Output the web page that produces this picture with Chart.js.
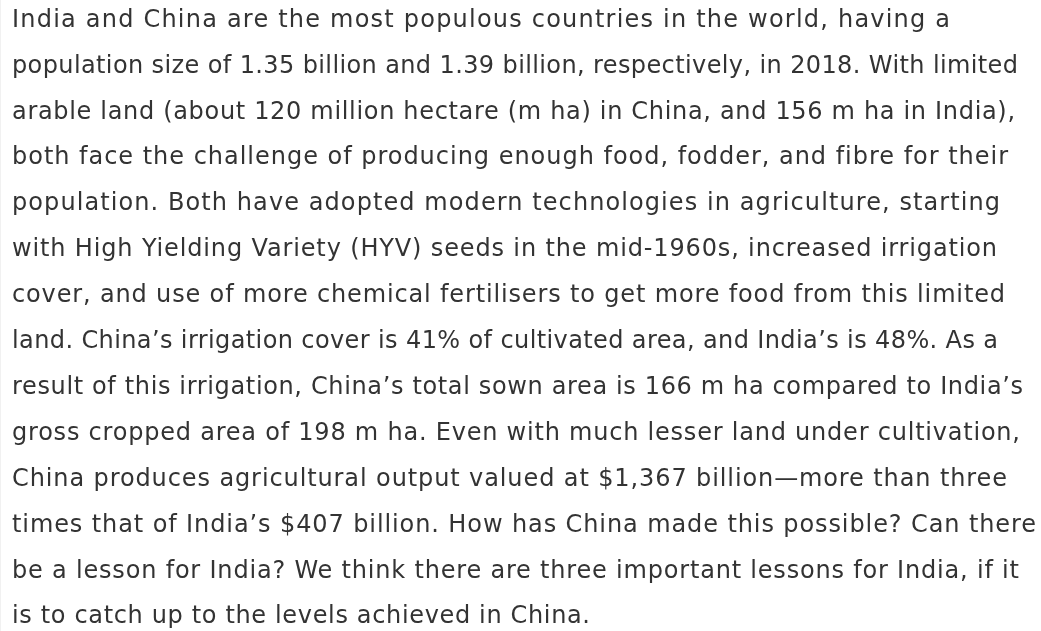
<!DOCTYPE html>
<html>
<head>
<meta charset="utf-8">
<script src="https://cdn.jsdelivr.net/npm/chart.js@4"></script>
<style>
  html, body { margin: 0; padding: 0; background: #ffffff; overflow: hidden; }
  #wrap { position: relative; width: 1041px; height: 631px; overflow: hidden; }
  #c { position: absolute; left: 0; top: 0; }
</style>
</head>
<body>
<div id="wrap"><canvas id="c" width="1041" height="631"></canvas></div>
<script>
// Text content of the reference (one entry per rendered line)
const paragraphLines = [
  "India and China are the most populous countries in the world, having a",
  "population size of 1.35 billion and 1.39 billion, respectively, in 2018. With limited",
  "arable land (about 120 million hectare (m ha) in China, and 156 m ha in India),",
  "both face the challenge of producing enough food, fodder, and fibre for their",
  "population. Both have adopted modern technologies in agriculture, starting",
  "with High Yielding Variety (HYV) seeds in the mid-1960s, increased irrigation",
  "cover, and use of more chemical fertilisers to get more food from this limited",
  "land. China\u2019s irrigation cover is 41% of cultivated area, and India\u2019s is 48%. As a",
  "result of this irrigation, China\u2019s total sown area is 166 m ha compared to India\u2019s",
  "gross cropped area of 198 m ha. Even with much lesser land under cultivation,",
  "China produces agricultural output valued at $1,367 billion\u2014more than three",
  "times that of India\u2019s $407 billion. How has China made this possible? Can there",
  "be a lesson for India? We think there are three important lessons for India, if it",
  "is to catch up to the levels achieved in China."
];
// No plotted series in the reference
const categories = [];
const seriesValues = [];

// Layout (typesetting) settings, kept apart from the content
const TEXT_LEFT = 12;
const FIRST_BASELINE = 26.7;
const LINE_STEP = 45.9;
const FONT = '24px "DejaVu Sans"';
const TEXT_COLOR = '#333333';
const lineRightEdges = [950, 1018, 1015, 1008, 1000, 997, 1005, 998, 1023, 1020, 1007, 1036, 1019, 590];

const paragraphPlugin = {
  id: 'paragraph',
  afterDraw(chart) {
    const ctx = chart.ctx;
    ctx.save();
    ctx.font = FONT;
    ctx.fillStyle = TEXT_COLOR;
    ctx.textAlign = 'left';
    ctx.textBaseline = 'alphabetic';
    paragraphLines.forEach((line, i) => {
      ctx.letterSpacing = '0px';
      const natural = ctx.measureText(line).width;
      const n = Array.from(line).length;
      const sp = (lineRightEdges[i] - TEXT_LEFT - natural) / Math.max(1, n - 1);
      ctx.letterSpacing = sp.toFixed(3) + 'px';
      ctx.fillText(line, TEXT_LEFT, FIRST_BASELINE + i * LINE_STEP);
    });
    ctx.letterSpacing = '0px';
    // faint page edge at the far left
    ctx.fillStyle = '#f1f1f1';
    ctx.fillRect(0, 0, 1, chart.height);
    ctx.restore();
  }
};

new Chart(document.getElementById('c'), {
  type: 'bar',
  data: { labels: categories, datasets: [{ data: seriesValues }] },
  plugins: [paragraphPlugin],
  options: {
    responsive: false,
    animation: false,
    layout: { padding: 0 },
    scales: { x: { display: false }, y: { display: false } },
    plugins: {
      legend: { display: false },
      tooltip: { enabled: false },
      title: { display: false }
    }
  }
});
</script>
</body>
</html>
